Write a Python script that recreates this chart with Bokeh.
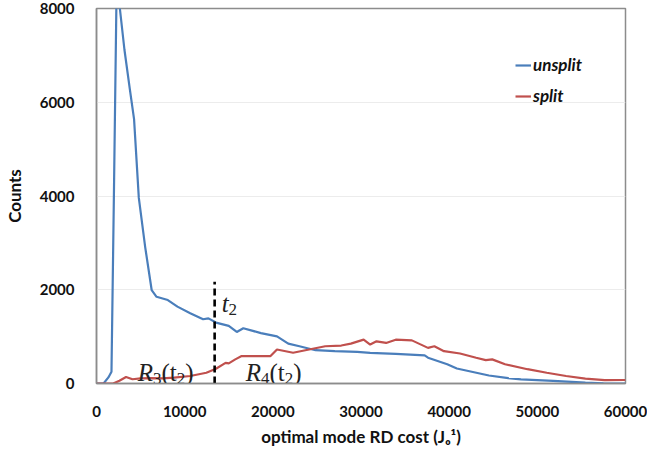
from bokeh.plotting import figure
from bokeh.models import Range1d, Legend, LegendItem, FixedTicker
from bokeh.core.properties import value
from bokeh.embed import file_html
from bokeh.resources import INLINE

# ---- data ----
unsplit_x = [0, 800, 1350, 1700, 1970, 2250, 2450, 2650, 3170, 3780, 4260, 4800, 5530,
             6260, 6810, 8090, 9180, 10630, 12090, 12700, 13550, 15000, 15910, 16650,
             18650, 20470, 21750, 23020, 24840, 27030, 29570, 31040, 33940, 37220,
             37600, 38690, 39780, 40870, 42690, 44510, 46700, 48150, 51800, 55450,
             57500, 60000]
unsplit_y = [0, 0, 130, 250, 3960, 8000, 8400, 8000, 7120, 6280, 5640, 3960, 2900,
             1990, 1850, 1780, 1640, 1500, 1370, 1390, 1300, 1230, 1100, 1180,
             1075, 1005, 850, 795, 710, 690, 675, 655, 633, 600,
             550, 480, 410, 320, 245, 170, 115, 90, 55, 20,
             5, 0]

split_x = [0, 800, 1890, 2600, 3350, 4080, 5000, 6260, 7500, 8810, 10630, 12460, 13550,
           14640, 15000, 15740, 16460, 17930, 19740, 20470, 22300, 24110, 25940, 27760,
           28850, 30300, 31040, 31760, 32850, 33940, 35770, 37600, 38320, 39410, 41230,
           43060, 44150, 44880, 46340, 48880, 51070, 53260, 55450, 57640, 59830, 60000]
split_y = [0, 0, 0, 60, 140, 90, 110, 115, 110, 125, 160, 230, 315,
           440, 430, 515, 585, 585, 585, 725, 655, 725, 795, 810,
           850, 935, 830, 900, 865, 935, 920, 760, 795, 690, 640,
           550, 500, 515, 410, 305, 230, 160, 105, 70, 75, 75]

t2_cost = 13400
t2_height = 2170

x_ticks = [0, 10000, 20000, 30000, 40000, 50000, 60000]
y_ticks = [0, 2000, 4000, 6000, 8000]

series_names = ["unsplit", "split"]
series_colors = ["#4a7ebb", "#c0504d"]

# ---- figure ----
p = figure(width=647, height=449, x_range=Range1d(0, 60000), y_range=Range1d(0, 8000),
           output_backend="svg", toolbar_location=None,
           min_border_left=85, min_border_right=22, min_border_top=8, min_border_bottom=61)
p.background_fill_color = "white"
p.border_fill_color = "white"
p.outline_line_color = "#8c8c8c"
p.outline_line_width = 1.5

p.xgrid.visible = False
p.ygrid.grid_line_color = "#ececec"
p.ygrid.grid_line_width = 1

p.xaxis.ticker = FixedTicker(ticks=x_ticks)
p.yaxis.ticker = FixedTicker(ticks=y_ticks)

for ax in (p.xaxis, p.yaxis):
    ax.axis_line_color = "#8c8c8c"
    ax.axis_line_width = 1.5
    ax.major_tick_line_color = None
    ax.minor_tick_line_color = None
    ax.major_label_text_font = "Lato"
    ax.major_label_text_font_style = "bold"
    ax.major_label_text_font_size = "15px"
    ax.major_label_text_color = "#111111"
    ax.axis_label_text_font = "Lato"
    ax.axis_label_text_font_style = "bold"
    ax.axis_label_text_font_size = "17px"
    ax.axis_label_text_color = "#111111"

p.xaxis.axis_label = "optimal mode RD cost (Jₒ¹)"
p.yaxis.axis_label = "Counts"
p.xaxis.major_label_standoff = 16
p.xaxis.axis_label_standoff = 6
p.yaxis.major_label_standoff = 16
p.yaxis.axis_label_standoff = 12

r1 = p.line(unsplit_x, unsplit_y, line_color=series_colors[0], line_width=2.2)
r2 = p.line(split_x, split_y, line_color=series_colors[1], line_width=2.2)

# threshold t2
p.segment(x0=[t2_cost], y0=[0], x1=[t2_cost], y1=[t2_height],
          line_color="black", line_width=2.6, line_dash="7 4")

# ---- annotation texts (serif, italic main letter + subscript) ----
W = {"R": 0.611, "t": 0.278, "(": 0.333, ")": 0.333}
def wid(s, size):
    return sum(W.get(c, 0.5) for c in s) * size

def label_run(dx0, dy0, pieces):
    dx = dx0
    for txt, size, style, sub in pieces:
        p.text(x=[t2_cost], y=[0], text=[txt], x_offset=dx, y_offset=dy0 + (6 if sub else 0),
               text_font=value("Liberation Serif"), text_font_size=f"{size}px",
               text_font_style=style, text_baseline="alphabetic", text_align="left",
               text_color="#222222")
        dx += wid(txt, size)

BIG, SUB = 25, 17
label_run(-77, -11, [("R", BIG, "italic", False), ("3", SUB, "normal", True),
                     ("(t", BIG, "normal", False), ("2", SUB, "normal", True),
                     (")", BIG, "normal", False)])
label_run(31, -11, [("R", BIG, "italic", False), ("4", SUB, "normal", True),
                    ("(t", BIG, "normal", False), ("2", SUB, "normal", True),
                    (")", BIG, "normal", False)])
label_run(7, -80, [("t", BIG, "italic", False), ("2", SUB, "normal", True)])

legend = Legend(items=[LegendItem(label=series_names[0], renderers=[r1]),
                       LegendItem(label=series_names[1], renderers=[r2])],
                location=(419, 277), border_line_color=None, background_fill_alpha=0,
                padding=0, margin=0, spacing=10, glyph_width=16, glyph_height=20,
                label_standoff=2, label_text_font="Lato", label_text_font_style="bold italic",
                label_text_font_size="17px", label_text_color="#111111")
p.add_layout(legend)

open("out.html", "w").write(file_html(p, INLINE))
